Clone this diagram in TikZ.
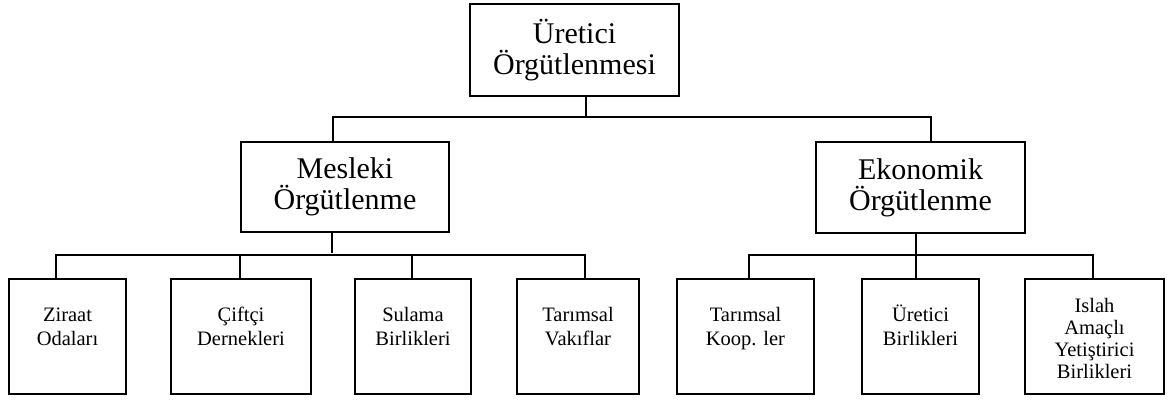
\documentclass[tikz,border=0pt]{standalone}
\usepackage{fontspec}
\setmainfont{Liberation Serif}
\begin{document}
\begin{tikzpicture}[x=1pt,y=-1pt,
  box/.style={draw=black,line width=1.3pt,rectangle,inner sep=0pt,align=center},
  big/.style={font=\fontsize{30}{31}\selectfont},
  small/.style={font=\fontsize{20.5}{24}\selectfont,align=center,inner sep=0pt},
  conn/.style={draw=black,line width=1.2pt}]
\useasboundingbox (0,0) rectangle (1168,401);
% boxes
\node[box,big,minimum width=209pt,minimum height=92pt] (top) at (574.5,50) {Üretici\\Örgütlenmesi};
\node[box,big,minimum width=208pt,minimum height=90pt] (mes) at (345,187) {Mesleki\\Örgütlenme};
\node[box,big,minimum width=209pt,minimum height=91pt] (eko) at (920.5,187.5) {Ekonomik\\Örgütlenme};
\node[box,minimum width=117pt,minimum height=115pt] (b1) at (67.5,336.5) {};
\node[box,minimum width=140pt,minimum height=115pt] (b2) at (241,336.5) {};
\node[box,minimum width=116pt,minimum height=115pt] (b3) at (413,336.5) {};
\node[box,minimum width=122pt,minimum height=115pt] (b4) at (578,336.5) {};
\node[box,minimum width=137pt,minimum height=115pt] (b5) at (745.5,336.5) {};
\node[box,minimum width=117pt,minimum height=115pt] (b6) at (920.5,336.5) {};
\node[box,minimum width=139pt,minimum height=115pt] (b7) at (1094.5,336.5) {};
% texts
\node[small] (t1) at (67.5,329) {\strut Ziraat\\Odaları\strut};
\node[small] (t2) at (241,329) {\strut Çiftçi\\Dernekleri\strut};
\node[small] (t3) at (413,329) {\strut Sulama\\Birlikleri\strut};
\node[small] (t4) at (578,329) {\strut Tarımsal\\Vakıflar\strut};
\node[small] (t5) at (745.5,329) {\strut Tarımsal\\Koop. ler\strut};
\node[small] (t6) at (920.5,329) {\strut Üretici\\Birlikleri\strut};
\node[small,font=\fontsize{20.5}{22}\selectfont] (t7) at (1094.5,338) {Islah\\Amaçlı\\Yetiştirici\\Birlikleri};
% junctions
\coordinate (j0) at (586,117);
\coordinate (jl) at (333,117);
\coordinate (jr) at (931,117);
\coordinate (m0) at (332,255);
\coordinate (e0) at (916,255);
\coordinate (c1) at (56,255);
\coordinate (c2) at (240,255);
\coordinate (c3) at (412,255);
\coordinate (c4) at (585,255);
\coordinate (c5) at (749,255);
\coordinate (c7) at (1093,255);
% connectors
\draw[conn] (top.south -| j0) -- (j0);
\draw[conn] (mes.north -| jl) -- (jl) -- (jr) -- (eko.north -| jr);
\draw[conn] (mes.south -| m0) -- ([yshift=2pt]m0);
\draw[conn] (b1.north -| c1) -- (c1) -- (c4) -- (b4.north -| c4);
\draw[conn] (c2) -- (b2.north -| c2);
\draw[conn] (c3) -- (b3.north -| c3);
\draw[conn] (eko.south -| e0) -- (b6.north -| e0);
\draw[conn] (b5.north -| c5) -- (c5) -- (c7) -- (b7.north -| c7);
\end{tikzpicture}
\end{document}
